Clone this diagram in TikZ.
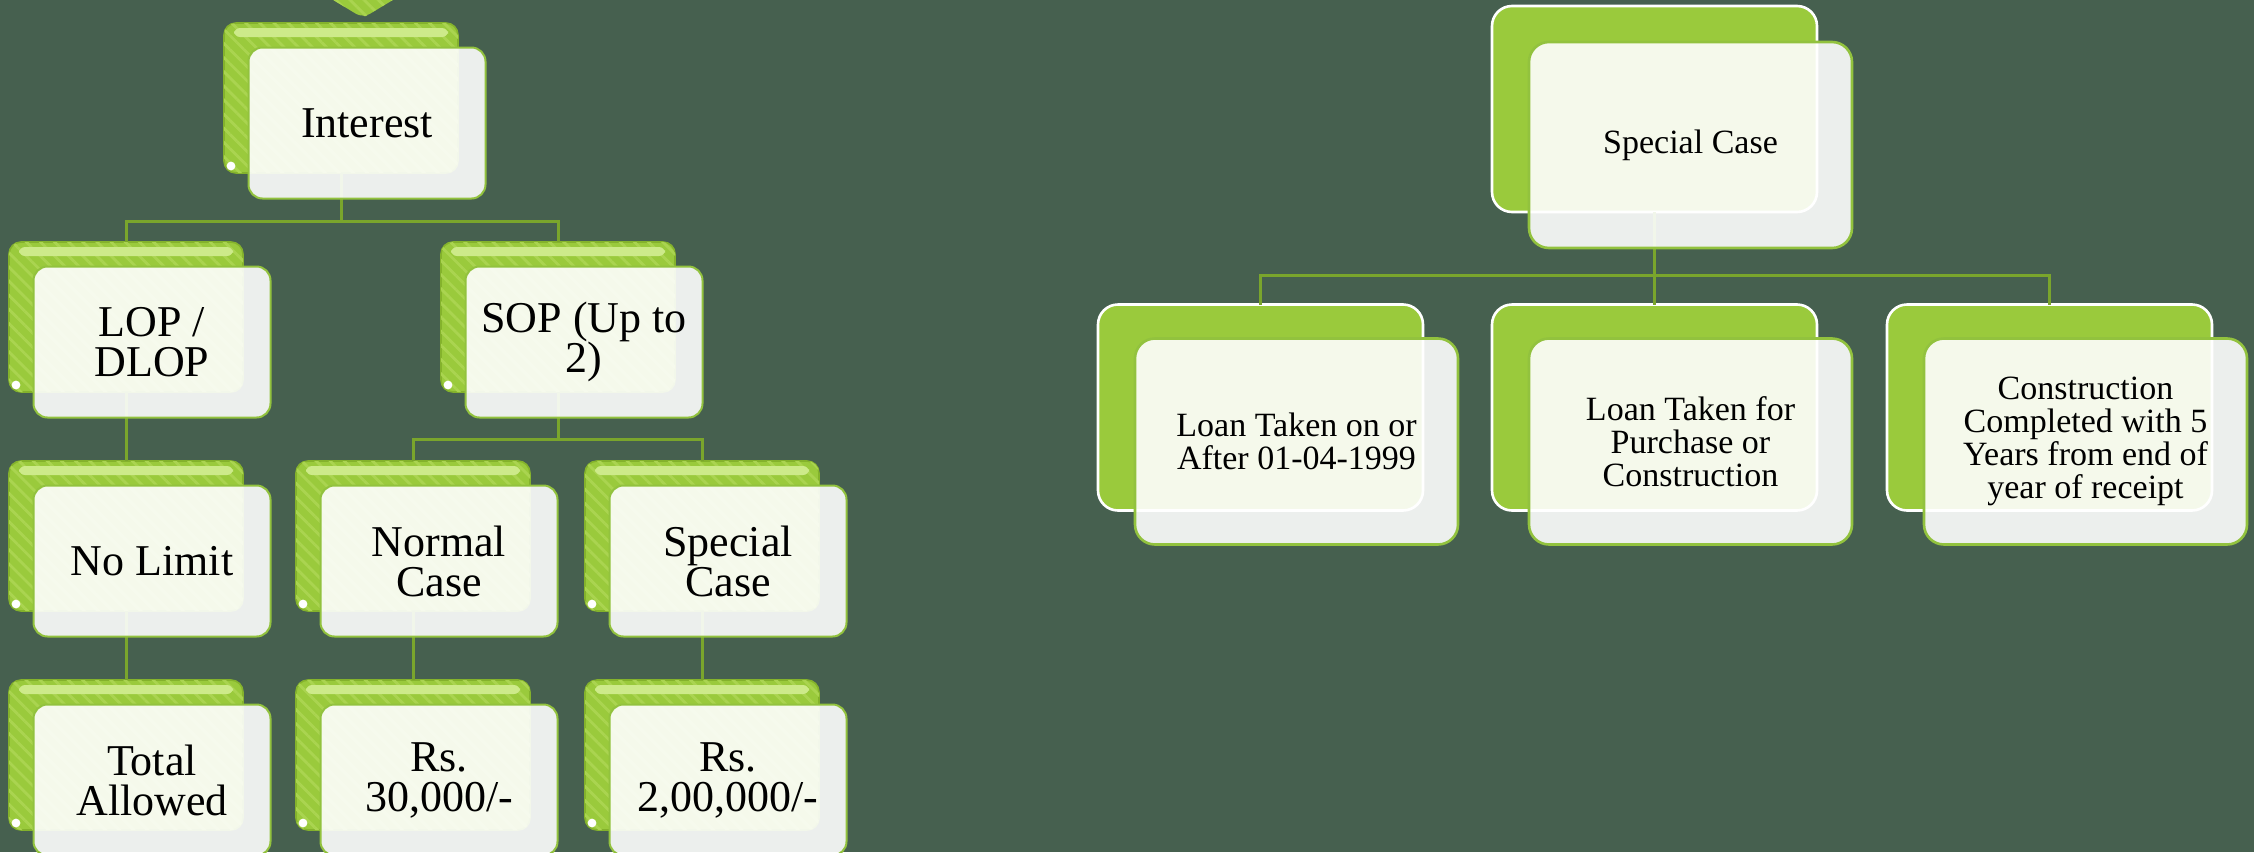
\documentclass[tikz,border=0pt]{standalone}
\usepackage{fontspec}
\setmainfont{Liberation Serif}
\usetikzlibrary{patterns.meta}
\definecolor{bg}{HTML}{46604F}
\definecolor{leaf}{HTML}{9ACA3C}
\definecolor{leafdark}{HTML}{84B22C}
\definecolor{stripe}{HTML}{AAD450}
\definecolor{gloss}{HTML}{CDEA8A}
\definecolor{edgegreen}{HTML}{92C23E}
\definecolor{conncol}{HTML}{7AA52C}
\tikzset{
  lback/.style={minimum width=117pt, minimum height=75pt, inner sep=0pt, outer sep=0pt,
    rounded corners=6pt, fill=leaf, draw=leafdark, line width=0.8pt,
    postaction={pattern={Lines[angle=-45,distance=5pt,line width=1.4pt]}, pattern color=stripe}},
  lfront/.style={minimum width=118.5pt, minimum height=75.5pt, inner sep=0pt, outer sep=0pt,
    rounded corners=7pt, fill=white, fill opacity=0.9, text opacity=1, draw=edgegreen,
    line width=1pt, align=center, font=\fontsize{22}{20}\selectfont},
  rback/.style={minimum width=162.5pt, minimum height=103pt, inner sep=0pt, outer sep=0pt,
    rounded corners=10pt, fill=leaf, draw=white, line width=1.3pt},
  rfront/.style={minimum width=161.5pt, minimum height=103pt, inner sep=0pt, outer sep=0pt,
    rounded corners=10pt, fill=white, fill opacity=0.9, text opacity=1, draw=edgegreen,
    line width=1.3pt, align=center, font=\fontsize{17}{16.5}\selectfont},
  conn/.style={draw=conncol, line width=1.5pt},
}
\begin{document}
\begin{tikzpicture}[x=0.5pt,y=-0.5pt]
\fill[bg] (0,0) rectangle (2254,852);
\useasboundingbox (0,0) rectangle (2254,852);
\clip (0,0) rectangle (2254,852);
% top chevron (cut off)
\fill[leaf, rounded corners=4pt] (310,-14) -- (363,18) -- (416,-14) -- cycle;
\fill[pattern={Lines[angle=-45,distance=5pt,line width=1.4pt]}, pattern color=stripe] (310,-14) -- (360,16) -- (366,16) -- (416,-14) -- cycle;
% ---------- left tree : back boxes ----------
\node[lback] (b-int) at (341,98) {};
\node[lback] (b-lop) at (126,317) {};
\node[lback] (b-sop) at (558,317) {};
\node[lback] (b-nl)  at (126,536) {};
\node[lback] (b-nc)  at (413,536) {};
\node[lback] (b-sc)  at (702,536) {};
\node[lback] (b-ta)  at (126,755) {};
\node[lback] (b-r1)  at (413,755) {};
\node[lback] (b-r2)  at (702,755) {};
\foreach \n in {b-int,b-lop,b-sop,b-nl,b-nc,b-sc,b-ta,b-r1,b-r2}{
  \fill[gloss, rounded corners=3pt] ([xshift=5pt,yshift=-2.5pt]\n.north west) rectangle ([xshift=-5pt,yshift=-7pt]\n.north east);
  \fill[white] ([xshift=3.5pt,yshift=3.5pt]\n.south west) circle (2.2pt);
}
% ---------- left tree : connectors ----------
\draw[conn] (b-int.south) -- ++(0,48) -| (b-lop.north);
\draw[conn] (b-int.south) -- ++(0,48) -| (b-sop.north);
\draw[conn] (b-lop.south) -- (b-nl.north);
\draw[conn] (b-sop.south) -- ++(0,47) -| (b-nc.north);
\draw[conn] (b-sop.south) -- ++(0,47) -| (b-sc.north);
\draw[conn] (b-nl.south) -- (b-ta.north);
\draw[conn] (b-nc.south) -- (b-r1.north);
\draw[conn] (b-sc.south) -- (b-r2.north);
% ---------- left tree : front boxes ----------
\node[lfront] (f-int) at (367,123) {Interest};
\node[lfront] (f-lop) at (152,342) {LOP /\\DLOP};
\node[lfront] (f-sop) at (584,342) {SOP (Up to\\2)};
\node[lfront] (f-nl)  at (152,561) {No Limit};
\node[lfront] (f-nc)  at (439,561) {Normal\\Case};
\node[lfront] (f-sc)  at (728,561) {Special\\Case};
\node[lfront] (f-ta)  at (152,780) {Total\\Allowed};
\node[lfront] (f-r1)  at (439,780) {Rs.\\30,000/-};
\node[lfront] (f-r2)  at (728,780) {Rs.\\2,00,000/-};
% ---------- right tree ----------
\node[rback] (b-top) at (1654.5,109) {};
\node[rback] (b-c1)  at (1260.5,407.5) {};
\node[rback] (b-c2)  at (1654.5,407.5) {};
\node[rback] (b-c3)  at (2049.5,407.5) {};
\draw[conn] (b-top.south) -- ++(0,63.5) -| (b-c1.north);
\draw[conn] (b-top.south) -- (b-c2.north);
\draw[conn] (b-top.south) -- ++(0,63.5) -| (b-c3.north);
\node[rfront] (f-top) at (1690.5,145) {Special Case};
\node[rfront] (f-c1)  at (1296.5,441.5) {Loan Taken on or\\After 01-04-1999};
\node[rfront] (f-c2)  at (1690.5,441.5) {Loan Taken for\\Purchase or\\Construction};
\node[rfront] (f-c3)  at (2085.5,441.5) {Construction\\Completed with 5\\Years from end of\\year of receipt};
\end{tikzpicture}
\end{document}
